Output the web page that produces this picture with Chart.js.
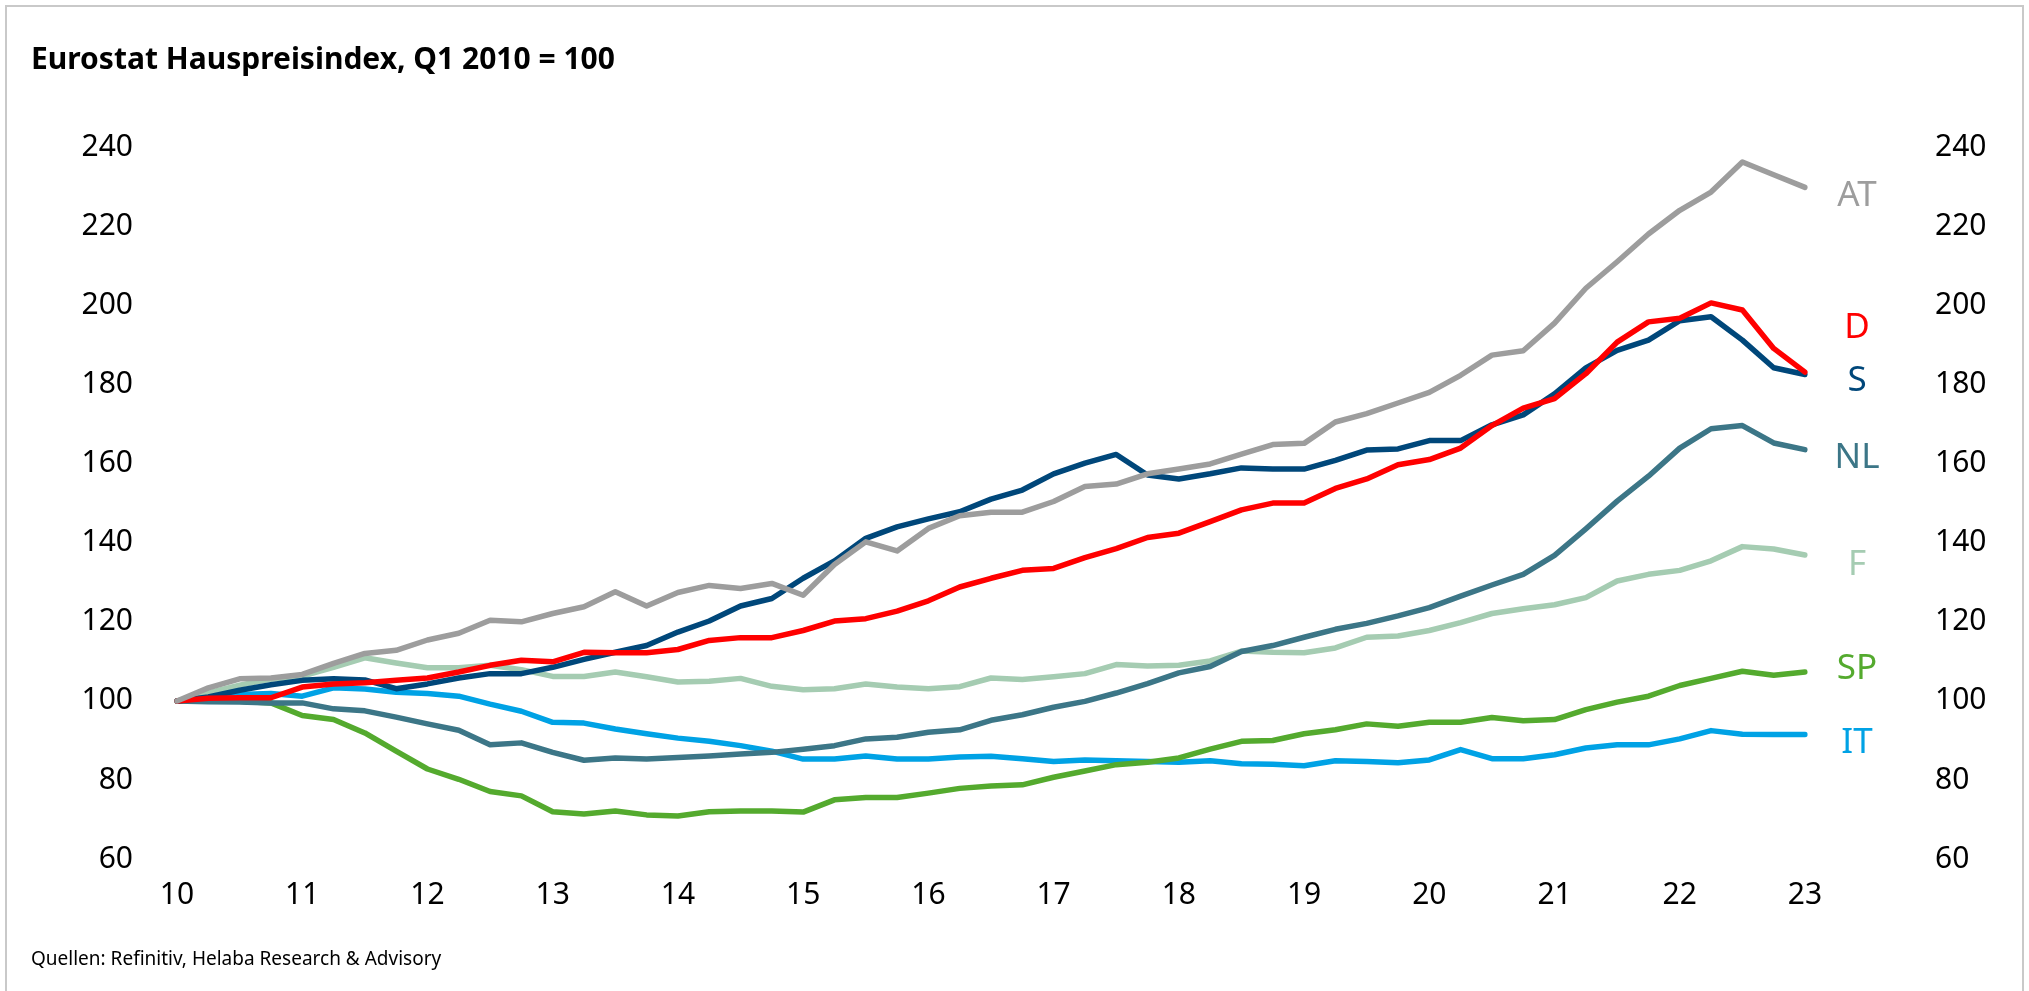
<!DOCTYPE html>
<html>
<head>
<meta charset="utf-8">
<script src="https://cdn.jsdelivr.net/npm/chart.js@4.4.0/dist/chart.umd.min.js"></script>
<style>
  html, body { margin: 0; padding: 0; background: #ffffff; }
  #wrap { position: relative; width: 2029px; height: 991px; }
</style>
</head>
<body>
<div id="wrap"><canvas id="c"></canvas></div>
<script>
// ---- data ----
const quarters = [
  "2010Q1","2010Q2","2010Q3","2010Q4","2011Q1","2011Q2","2011Q3","2011Q4",
  "2012Q1","2012Q2","2012Q3","2012Q4","2013Q1","2013Q2","2013Q3","2013Q4",
  "2014Q1","2014Q2","2014Q3","2014Q4","2015Q1","2015Q2","2015Q3","2015Q4",
  "2016Q1","2016Q2","2016Q3","2016Q4","2017Q1","2017Q2","2017Q3","2017Q4",
  "2018Q1","2018Q2","2018Q3","2018Q4","2019Q1","2019Q2","2019Q3","2019Q4",
  "2020Q1","2020Q2","2020Q3","2020Q4","2021Q1","2021Q2","2021Q3","2021Q4",
  "2022Q1","2022Q2","2022Q3","2022Q4","2023Q1"
];
const yearTickLabels = ["10","11","12","13","14","15","16","17","18","19","20","21","22","23"];
const yTickValues = [60, 80, 100, 120, 140, 160, 180, 200, 220, 240];

const seriesNames = ["AT", "D", "S", "NL", "F", "SP", "IT"];

const at = [100, 103.3, 105.6, 105.8, 106.7, 109.5, 112, 112.8, 115.4, 117.1, 120.4, 120, 122.1, 123.8, 127.6, 124, 127.4, 129.2, 128.4, 129.7, 126.7,
  134.5, 140.2, 137.9, 143.6, 146.8, 147.7, 147.7, 150.4, 154.2, 154.8, 157.4, 158.6, 159.9, 162.4, 164.8, 165.1, 170.5, 172.6, 175.3,
  178, 182.3, 187.4, 188.5, 195.5, 204.3, 211, 218, 224, 228.6, 236.2, 233, 229.8];
const de = [100, 100.7, 100.8, 100.8, 103.5, 104.3, 104.6, 105.2, 105.8, 107.3, 109, 110.3, 109.9, 112.3, 112.2, 112.2, 113, 115.3, 116, 116, 117.8,
  120.2, 120.8, 122.7, 125.3, 128.8, 131, 133, 133.5, 136.2, 138.5, 141.3, 142.4, 145.3, 148.3, 150, 150, 153.7, 156.1, 159.7, 161,
  163.9, 169.6, 174, 176.4, 182.7, 190.7, 195.8, 196.7, 200.6, 198.8, 189.1, 183.1];
const se = [100, 101, 102.7, 104.1, 105.2, 105.6, 105.3, 103.1, 104.3, 105.8, 106.9, 106.9, 108.5, 110.5, 112.3, 114, 117.4, 120.2, 124, 125.9, 131,
  135.4, 141.1, 144, 146, 147.8, 151, 153.3, 157.4, 160.1, 162.3, 157.1, 156.1, 157.4, 158.9, 158.6, 158.6, 160.8, 163.4, 163.7, 165.8,
  165.8, 169.8, 172.3, 177.6, 184.2, 188.6, 191.2, 196.1, 197.1, 191.2, 184.2, 182.5];
const nl = [100, 99.8, 99.7, 99.5, 99.5, 98, 97.5, 95.9, 94.2, 92.6, 88.9, 89.4, 87, 85, 85.6, 85.3, 85.7, 86.1, 86.6, 87, 87.8,
  88.7, 90.4, 90.8, 92.1, 92.7, 95.1, 96.5, 98.4, 99.9, 102, 104.4, 107.1, 108.7, 112.5, 114, 116.1, 118.1, 119.6, 121.5, 123.6,
  126.5, 129.3, 132, 136.8, 143.5, 150.5, 156.8, 163.9, 168.8, 169.6, 165.2, 163.5];
const fr = [100, 102, 104, 105.5, 106.3, 108.5, 110.9, 109.6, 108.4, 108.4, 109, 107.9, 106.2, 106.2, 107.3, 106.1, 104.8, 105, 105.7, 103.7, 102.8,
  103.1, 104.3, 103.5, 103.1, 103.6, 105.8, 105.4, 106.1, 106.9, 109.2, 108.8, 109, 110.1, 112.6, 112.3, 112.2, 113.4, 116.1, 116.4, 117.8,
  119.8, 122.1, 123.3, 124.3, 126.1, 130.3, 132, 133, 135.4, 139, 138.4, 136.9];
const sp = [100, 100.2, 99.9, 99.5, 96.3, 95.3, 91.9, 87.3, 82.8, 80.2, 77.1, 76, 72, 71.4, 72.2, 71.2, 70.9, 72, 72.2, 72.2, 71.9,
  75, 75.6, 75.6, 76.7, 77.9, 78.5, 78.8, 80.7, 82.3, 83.9, 84.5, 85.6, 87.8, 89.8, 90, 91.7, 92.7, 94.2, 93.6, 94.6,
  94.6, 95.8, 95, 95.3, 97.8, 99.7, 101.2, 103.9, 105.7, 107.5, 106.5, 107.3];
const it = [100, 100.8, 101.6, 101.9, 101.2, 103.3, 103, 102.2, 101.9, 101.2, 99.2, 97.4, 94.6, 94.4, 92.9, 91.7, 90.6, 89.8, 88.7, 87.3, 85.3,
  85.3, 86.1, 85.3, 85.3, 85.8, 86, 85.4, 84.7, 85.1, 84.9, 84.7, 84.5, 84.9, 84.1, 84, 83.6, 84.9, 84.7, 84.4, 85.1,
  87.7, 85.4, 85.4, 86.4, 88.1, 88.9, 88.9, 90.4, 92.5, 91.6, 91.5, 91.5];

// value (in index units) at which each end label sits
const labelAnchors = [227.5, 194.3, 180.8, 161.5, 134.3, 108.1, 89.4];

const titleText = "Eurostat Hauspreisindex, Q1 2010 = 100";
const sourceText = "Quellen: Refinitiv, Helaba Research & Advisory";

// ---- styles ----
const FONT = "'Noto Sans', 'Open Sans', sans-serif";
const colors = ["#9d9d9d", "#ff0000", "#00477a", "#3c7687", "#a5ccb2", "#54aa2e", "#00a2e5"];
const values = [at, de, se, nl, fr, sp, it];

const datasets = seriesNames.map((name, i) => ({
  label: name,
  data: values[i],
  borderColor: colors[i],
  backgroundColor: colors[i],
  borderWidth: 5.5,
  pointRadius: 0,
  tension: 0,
  borderJoinStyle: 'round',
  borderCapStyle: 'round',
  yAxisID: 'y'
}));

const decorPlugin = {
  id: 'decor',
  beforeDraw(chart) {
    const ctx = chart.ctx;
    ctx.save();
    ctx.strokeStyle = '#c9c9c9';
    ctx.lineWidth = 2;
    ctx.beginPath();
    ctx.moveTo(6, chart.height + 2);
    ctx.lineTo(6, 6);
    ctx.lineTo(chart.width - 6, 6);
    ctx.lineTo(chart.width - 6, chart.height + 2);
    ctx.stroke();
    ctx.restore();
  },
  afterDatasetsDraw(chart) {
    const ctx = chart.ctx;
    const ys = chart.scales.y;
    const xc = chart.chartArea.right + 52;
    ctx.save();
    ctx.font = "35px " + FONT;
    ctx.textAlign = 'center';
    ctx.textBaseline = 'middle';
    seriesNames.forEach((name, i) => {
      ctx.fillStyle = colors[i];
      ctx.fillText(name, xc, ys.getPixelForValue(labelAnchors[i]));
    });
    ctx.restore();
  }
};

function fitY(width) {
  return s => {
    s.width = width;
    s.paddingTop = 18;
    s.paddingBottom = 18;
  };
}

new Chart(document.getElementById('c'), {
  type: 'line',
  data: { labels: quarters, datasets },
  options: {
    responsive: true,
    maintainAspectRatio: false,
    animation: false,
    events: [],
    layout: { padding: { left: 31, right: 31, top: 0, bottom: 0 } },
    plugins: {
      legend: { display: false },
      tooltip: { enabled: false },
      title: {
        display: true,
        text: titleText,
        align: 'start',
        color: '#000000',
        font: { family: FONT, size: 30, weight: 'bold', lineHeight: 1.2 },
        padding: { top: 42, bottom: 69 }
      },
      subtitle: {
        display: true,
        position: 'bottom',
        text: sourceText,
        align: 'start',
        color: '#000000',
        font: { family: FONT, size: 19, weight: 'normal', lineHeight: 1.2 },
        padding: { top: 17, bottom: 20 }
      }
    },
    scales: {
      x: {
        type: 'category',
        offset: false,
        grid: { display: false, drawTicks: false },
        border: { display: false },
        ticks: {
          autoSkip: false,
          maxRotation: 0,
          minRotation: 0,
          padding: 18,
          color: '#000000',
          font: { family: FONT, size: 30 },
          callback: (v, idx) => (idx % 4 === 0 ? yearTickLabels[idx / 4] : null)
        }
      },
      y: {
        position: 'left',
        min: 60, max: 240,
        grid: { display: false, drawTicks: false },
        border: { display: false },
        afterBuildTicks: s => { s.ticks = yTickValues.map(v => ({ value: v })); },
        afterFit: fitY(146),
        ticks: { padding: 44, color: '#000000', font: { family: FONT, size: 30 } }
      },
      y2: {
        position: 'right',
        min: 60, max: 240,
        grid: { display: false, drawTicks: false },
        border: { display: false },
        afterBuildTicks: s => { s.ticks = yTickValues.map(v => ({ value: v })); },
        afterFit: fitY(193),
        ticks: { padding: 130, color: '#000000', font: { family: FONT, size: 30 } }
      }
    }
  },
  plugins: [decorPlugin]
});
</script>
</body>
</html>
